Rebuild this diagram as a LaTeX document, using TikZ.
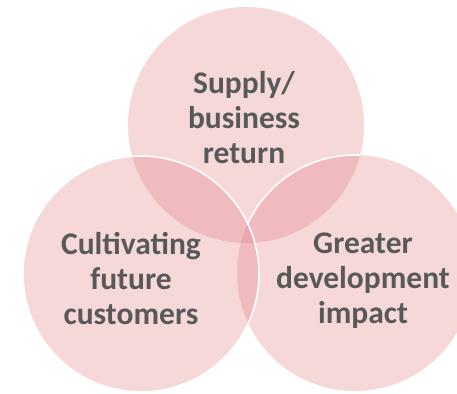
\documentclass[tikz,border=0pt]{standalone}
\usepackage{fontspec}
\setmainfont{Carlito}
\usepackage{tikz}
\usetikzlibrary{positioning,calc}
\definecolor{vennpink}{HTML}{DC6E73}
\definecolor{venntext}{HTML}{595959}
\tikzset{
    every node/.style={font=\bfseries\fontsize{31.5}{35}\selectfont},
    venn/.style={circle,fill=vennpink,fill opacity=0.27,draw=none,minimum size=236pt,inner sep=0pt},
    vennlabel/.style={text=venntext,align=center,inner sep=0pt},
    rim/.style={draw=white,line width=1.6pt}
}

\begin{document}
\begin{tikzpicture}[x=1pt,y=-1pt]
    \useasboundingbox (0,0) rectangle (457,393);
    % the three sets
    \node[venn] (supply) at (246,125) {};
    \node[venn] (impact) at (355,273) {};
    \node[venn] (market) at (141,274) {};
    % white rims where one circle lies on another
    \begin{scope}[even odd rule]
        \clip (supply.center) circle[radius=118];
        \clip (0,0) rectangle (457,393) (market.center) circle[radius=118];
        \draw[rim] (impact.center) circle[radius=118];
    \end{scope}
    \draw[rim] (market.center) circle[radius=118];
    % labels
    \node[vennlabel] (supplytxt) at (244,118) {Supply/\\business\\return};
    \node[vennlabel] (markettxt) at (131,279) {Cultivating\\future\\customers};
    \node[vennlabel] (impacttxt) at (363,281) {Greater\\development\\impact};
\end{tikzpicture}
\end{document}
